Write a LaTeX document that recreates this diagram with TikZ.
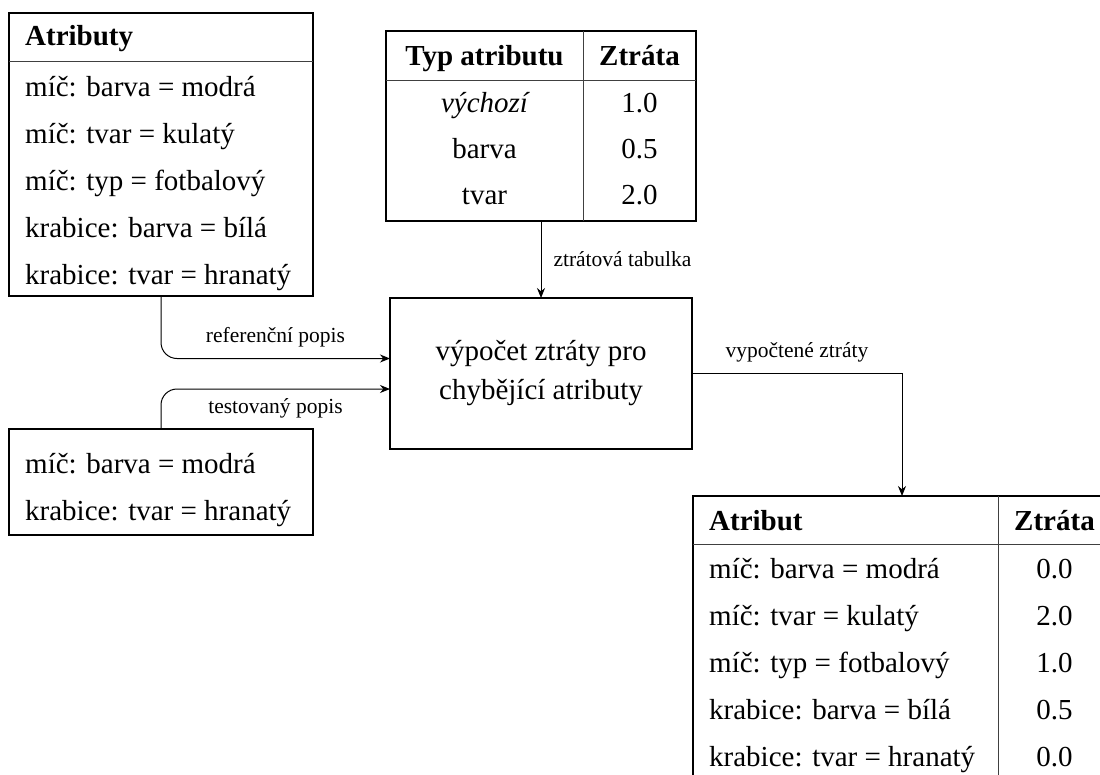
\documentclass[tikz,border=0pt]{standalone}
\usepackage{fontspec}
\setmainfont{Liberation Serif}
\usetikzlibrary{arrows.meta}
\newcommand\bodysz{\fontsize{29}{33}\selectfont}
\newcommand\labelsz{\fontsize{21.5}{25}\selectfont}
\begin{document}
\begin{tikzpicture}[x=1pt,y=-1pt,
  box/.style={draw, line width=1.2pt, inner sep=0pt, outer sep=0pt, anchor=north west},
  rule/.style={line width=0.9pt, draw=black!75},
  cell/.style={inner sep=0pt, font=\bodysz},
  head/.style={inner sep=0pt, font=\bodysz\bfseries},
  lbl/.style={inner sep=0pt, font=\labelsz},
  arr/.style={line width=1pt, -{Stealth[length=10pt,width=8pt]}},
]
\useasboundingbox (0,0) rectangle (1100,774);
\clip (0,0) rectangle (1100,774);
\fill[white] (0,0) rectangle (1100,774);

% reference description: attribute list
\node[box, minimum width=304pt, minimum height=283pt] (attrs) at (9,13) {};
\draw[rule] (9,61) -- (313,61);
\node[head, anchor=base west] (attrsH) at (25,45) {Atributy};
\node[cell, anchor=base west] (r1) at (25,96)  {míč: barva = modrá};
\node[cell, anchor=base west] (r2) at (25,143) {míč: tvar = kulatý};
\node[cell, anchor=base west] (r3) at (25,190) {míč: typ = fotbalový};
\node[cell, anchor=base west] (r4) at (25,237) {krabice: barva = bílá};
\node[cell, anchor=base west] (r5) at (25,284) {krabice: tvar = hranatý};

% tested description
\node[box, minimum width=304pt, minimum height=106pt] (test) at (9,429) {};
\node[cell, anchor=base west] (t1) at (25,473) {míč: barva = modrá};
\node[cell, anchor=base west] (t2) at (25,520) {krabice: tvar = hranatý};

% loss table per attribute type
\node[box, minimum width=310pt, minimum height=190pt] (tloss) at (386,31) {};
\draw[rule] (386,80) -- (696,80);
\draw[rule] (583,31) -- (583,221);
\node[head, anchor=base] (lh1) at (484.5,65) {Typ atributu};
\node[head, anchor=base] (lh2) at (639.5,65) {Ztráta};
\node[cell, anchor=base] (l1a) at (484.5,112) {\itshape výchozí};
\node[cell, anchor=base] (l1b) at (639.5,112) {1.0};
\node[cell, anchor=base] (l2a) at (484.5,158) {barva};
\node[cell, anchor=base] (l2b) at (639.5,158) {0.5};
\node[cell, anchor=base] (l3a) at (484.5,204) {tvar};
\node[cell, anchor=base] (l3b) at (639.5,204) {2.0};

% processing step
\node[box, anchor=center, minimum width=302pt, minimum height=151pt,
      align=center, font=\fontsize{29}{39}\selectfont] (proc) at (541,373.5)
  {výpočet ztráty pro\\chybějící atributy};

% resulting losses
\node[box, minimum width=418pt, minimum height=286pt] (outt) at (693,496) {};
\draw[rule] (693,544) -- (1111,544);
\draw[rule] (998,496) -- (998,782);
\node[head, anchor=base west] (oh1) at (709,530) {Atribut};
\node[head, anchor=base] (oh2) at (1054.5,530) {Ztráta};
\node[cell, anchor=base west] (o1a) at (709,578) {míč: barva = modrá};
\node[cell, anchor=base] (o1b) at (1054.5,578) {0.0};
\node[cell, anchor=base west] (o2a) at (709,625) {míč: tvar = kulatý};
\node[cell, anchor=base] (o2b) at (1054.5,625) {2.0};
\node[cell, anchor=base west] (o3a) at (709,672) {míč: typ = fotbalový};
\node[cell, anchor=base] (o3b) at (1054.5,672) {1.0};
\node[cell, anchor=base west] (o4a) at (709,719) {krabice: barva = bílá};
\node[cell, anchor=base] (o4b) at (1054.5,719) {0.5};
\node[cell, anchor=base west] (o5a) at (709,766) {krabice: tvar = hranatý};
\node[cell, anchor=base] (o5b) at (1054.5,766) {0.0};

% connectors
\draw[arr] (tloss.south) -- (proc.north)
  node[lbl, midway, anchor=west, xshift=12pt] {ztrátová tabulka};
\draw[arr, rounded corners=16pt] (attrs.south) |- ([yshift=15pt]proc.west)
  node[lbl, pos=0.75, anchor=base, yshift=16pt] {referenční popis};
\draw[arr, rounded corners=16pt] (test.north) |- ([yshift=-15.5pt]proc.west)
  node[lbl, pos=0.75, anchor=base, yshift=-24pt] {testovaný popis};
\draw[arr] (proc.east) -| (outt.north)
  node[lbl, pos=0.25, anchor=base, yshift=16pt] {vypočtené ztráty};
\end{tikzpicture}
\end{document}
